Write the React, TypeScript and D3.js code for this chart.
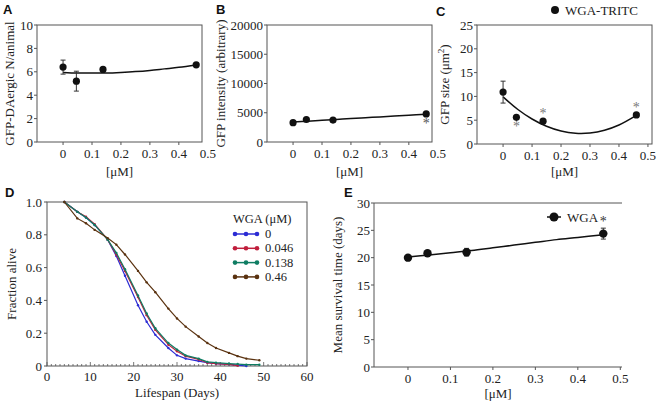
import React from "react";
import * as d3 from "d3";

// ---------- data ----------
const conc = [0, 0.046, 0.138, 0.46];
const fitX = [0, 0.05, 0.1, 0.15, 0.2, 0.25, 0.3, 0.35, 0.4, 0.46];

const neuronCount = [6.4, 5.2, 6.2, 6.6];
const neuronErr = [0.6, 0.85, 0.15, 0.1];
const neuronFit = [5.95, 5.9, 5.89, 5.9, 5.95, 6.02, 6.12, 6.25, 6.38, 6.58];

const intensity = [3300, 3850, 3750, 4800];
const intensityErr = [150, 150, 150, 150];
const intensityFit = [3420, 3560, 3700, 3850, 4000, 4140, 4290, 4430, 4570, 4750];

const gfpSize = [10.9, 5.6, 4.8, 6.1];
const gfpSizeErr = [2.3, 0.2, 0.2, 0.2];
const gfpSizeFit = [9.9, 7.3, 5.25, 3.72, 2.72, 2.24, 2.3, 2.88, 3.98, 6.0];

const survival = [20.0, 20.8, 21.0, 24.4];
const survivalErr = [0.3, 0.5, 0.7, 1.0];
const survivalFit = [20.1, 20.5, 20.9, 21.3, 21.8, 22.3, 22.8, 23.3, 23.7, 24.2];

const days = [4, 7, 9, 11, 14, 16, 18, 21, 23, 25, 28, 30, 32, 35, 37, 39, 42, 44, 46, 49];
const alive0 = [1.0, 0.94, 0.905, 0.86, 0.77, 0.67, 0.55, 0.37, 0.27, 0.19, 0.11, 0.065, 0.045, 0.03, 0.02, 0.015, 0.01, 0.005, 0.0];
const alive046 = [1.0, 0.94, 0.91, 0.865, 0.77, 0.68, 0.58, 0.42, 0.31, 0.22, 0.13, 0.09, 0.06, 0.04, 0.02, 0.015, 0.01, 0.002];
const alive138 = [1.0, 0.94, 0.905, 0.86, 0.77, 0.69, 0.59, 0.43, 0.32, 0.23, 0.14, 0.1, 0.065, 0.045, 0.025, 0.02, 0.015, 0.012, 0.008, 0.008];
const alive46 = [1.0, 0.9, 0.87, 0.83, 0.78, 0.74, 0.68, 0.58, 0.51, 0.45, 0.35, 0.29, 0.24, 0.18, 0.14, 0.11, 0.08, 0.06, 0.045, 0.035];
const lifespanSeries = [
  { label: "0", values: alive0, color: "#2c2cd4" },
  { label: "0.046", values: alive046, color: "#c01e3c" },
  { label: "0.138", values: alive138, color: "#0f7d63" },
  { label: "0.46", values: alive46, color: "#5a3210" },
];

const concTicks = [0, 0.1, 0.2, 0.3, 0.4, 0.5];
const neuronTicks = [0, 2, 4, 6, 8, 10];
const intensityTicks = [0, 5000, 10000, 15000, 20000];
const sizeTicks = [0, 5, 10, 15, 20, 25];
const survivalTicks = [0, 5, 10, 15, 20, 25, 30];
const dayTicks = [0, 10, 20, 30, 40, 50, 60];
const fracTicks = [0, 0.2, 0.4, 0.6, 0.8, 1.0];

const SERIF = "Liberation Serif, DejaVu Serif, Tinos, Times New Roman, Times, serif";
const SANS = "Liberation Sans, Arimo, Arial, DejaVu Sans, sans-serif";
const TXT = "#222";
const AX = "#555";

type Star = "above" | "below" | null;

function ScatterPanel(props: {
  left: number; right: number; top: number; bottom: number;
  xDomain: [number, number]; yDomain: [number, number];
  yTicks: number[]; values: number[]; errs: number[]; fit: number[];
  stars: Star[]; ylabel: React.ReactNode; ylabelX: number;
  letter: string; letterX: number; letterY: number; xlabelY: number;
  yFmt?: (v: number) => string; fullBox?: boolean; r?: number; starColor?: string;
}) {
  const p = props;
  const x = d3.scaleLinear().domain(p.xDomain).range([p.left, p.right]);
  const y = d3.scaleLinear().domain(p.yDomain).range([p.bottom, p.top]);
  const line = d3.line<number>().x((_, i) => x(fitX[i])).y((v) => y(v)).curve(d3.curveCatmullRom);
  const r = p.r ?? 3.6;
  const fmt = p.yFmt ?? ((v: number) => String(v));
  return (
    <g>
      <text x={p.letterX} y={p.letterY} fontFamily={SANS} fontWeight="bold" fontSize={13} fill="#111">{p.letter}</text>
      {p.fullBox !== false ? (
        <rect x={p.left} y={p.top} width={p.right - p.left} height={p.bottom - p.top} fill="none" stroke={AX} strokeWidth={1} />
      ) : (
        <path d={`M${p.right},${p.top}H${p.left}V${p.bottom}H${p.right}`} fill="none" stroke={AX} strokeWidth={1} />
      )}
      {p.yTicks.map((t) => (
        <g key={"y" + t}>
          <line x1={p.left - 3} x2={p.left} y1={y(t)} y2={y(t)} stroke={AX} />
          <text x={p.left - 4} y={y(t) + 4.5} textAnchor="end" fontFamily={SERIF} fontSize={13} fill={TXT}>{fmt(t)}</text>
        </g>
      ))}
      {concTicks.map((t) => (
        <g key={"x" + t}>
          {x(t) <= p.right + 0.5 && <line x1={x(t)} x2={x(t)} y1={p.bottom} y2={p.bottom + 3} stroke={AX} />}
          <text x={x(t)} y={p.bottom + 16} textAnchor="middle" fontFamily={SERIF} fontSize={13} fill={TXT}>{t === 0 ? "0" : t.toFixed(1)}</text>
        </g>
      ))}
      <text x={(p.left + p.right) / 2} y={p.xlabelY} textAnchor="middle" fontFamily={SERIF} fontSize={13} fill={TXT}>[μM]</text>
      <text transform={`translate(${p.ylabelX},${(p.top + p.bottom) / 2}) rotate(-90)`} textAnchor="middle" fontFamily={SERIF} fontSize={13} fill={TXT}>{p.ylabel}</text>
      <path d={line(p.fit) ?? ""} fill="none" stroke="#111" strokeWidth={1.5} />
      {p.values.map((v, i) => (
        <g key={"e" + i}>
          <line x1={x(conc[i])} x2={x(conc[i])} y1={y(v - p.errs[i])} y2={y(v + p.errs[i])} stroke="#333" />
          <line x1={x(conc[i]) - 2.5} x2={x(conc[i]) + 2.5} y1={y(v + p.errs[i])} y2={y(v + p.errs[i])} stroke="#333" />
          <line x1={x(conc[i]) - 2.5} x2={x(conc[i]) + 2.5} y1={y(v - p.errs[i])} y2={y(v - p.errs[i])} stroke="#333" />
          <circle cx={x(conc[i])} cy={y(v)} r={r} fill="#111" />
          {p.stars[i] && (
            <text x={x(conc[i])} textAnchor="middle"
              y={p.stars[i] === "above" ? y(v + p.errs[i]) - 2 : y(v - p.errs[i]) + 13}
              fontFamily={SERIF} fontSize={14} fill={p.starColor ?? "#555"}>*</text>
          )}
        </g>
      ))}
    </g>
  );
}

function LifespanPanel() {
  const left = 47, right = 307, top = 202, bottom = 366;
  const x = d3.scaleLinear().domain([0, 60]).range([left, right]);
  const y = d3.scaleLinear().domain([0, 1]).range([bottom, top]);
  const line = d3.line<number>().x((_, i) => x(days[i])).y((v) => y(v));
  const minor = d3.range(0, 61, 1);
  return (
    <g>
      <text x={5} y={197} fontFamily={SANS} fontWeight="bold" fontSize={13} fill="#111">D</text>
      <rect x={left} y={top} width={right - left} height={bottom - top} fill="none" stroke={AX} />
      {minor.map((t) => (
        <line key={"m" + t} x1={x(t)} x2={x(t)} y1={bottom} y2={bottom - (t % 10 === 0 ? 4 : 2)} stroke={AX} strokeWidth={0.8} />
      ))}
      {dayTicks.map((t) => (
        <text key={"dx" + t} x={x(t)} y={bottom + 15} textAnchor="middle" fontFamily={SERIF} fontSize={13} fill={TXT}>{t}</text>
      ))}
      {fracTicks.map((t) => (
        <g key={"dy" + t}>
          <line x1={left - 3} x2={left} y1={y(t)} y2={y(t)} stroke={AX} />
          <text x={left - 5} y={y(t) + 4.5} textAnchor="end" fontFamily={SERIF} fontSize={13} fill={TXT}>{t === 0 ? "0" : t.toFixed(1)}</text>
        </g>
      ))}
      <text x={(left + right) / 2} y={397} textAnchor="middle" fontFamily={SERIF} fontSize={13} fill={TXT}>Lifespan (Days)</text>
      <text transform={`translate(16,${(top + bottom) / 2}) rotate(-90)`} textAnchor="middle" fontFamily={SERIF} fontSize={13} fill={TXT}>Fraction alive</text>
      {lifespanSeries.map((s) => (
        <g key={s.label}>
          <path d={line(s.values) ?? ""} fill="none" stroke={s.color} strokeWidth={1.2} />
          {s.values.map((v, i) => (
            <circle key={i} cx={x(days[i])} cy={y(v)} r={1.2} fill={s.color} />
          ))}
        </g>
      ))}
      <text x={233} y={223} fontFamily={SERIF} fontSize={12.5} fill={TXT}>WGA (μM)</text>
      {lifespanSeries.map((s, i) => {
        const ly = 234 + i * 14.3;
        return (
          <g key={"lg" + s.label}>
            <line x1={235} x2={257} y1={ly} y2={ly} stroke={s.color} strokeWidth={1.5} />
            {[235, 246, 257].map((cx) => <circle key={cx} cx={cx} cy={ly} r={2.3} fill={s.color} />)}
            <text x={265} y={ly + 4} fontFamily={SERIF} fontSize={12.5} fill={TXT}>{s.label}</text>
          </g>
        );
      })}
    </g>
  );
}

export default function App() {
  return (
    <svg width={656} height={406} style={{ position: "absolute", left: 0, top: 0, background: "#fff" }}>
      <rect width={656} height={406} fill="#fff" />
      <ScatterPanel left={37} right={202} top={25} bottom={142} xDomain={[-0.09, 0.48]} yDomain={[0, 10]}
        yTicks={neuronTicks} values={neuronCount} errs={neuronErr} fit={neuronFit}
        stars={[null, null, null, null]} ylabel="GFP-DAergic N/animal" ylabelX={14}
        letter="A" letterX={3} letterY={14} xlabelY={176} />
      <ScatterPanel left={267} right={432} top={25} bottom={142} xDomain={[-0.09, 0.48]} yDomain={[0, 20000]}
        yTicks={intensityTicks} values={intensity} errs={intensityErr} fit={intensityFit}
        stars={[null, null, null, "below"]} ylabel="GFP intensity (arbitrary)" ylabelX={225}
        letter="B" letterX={216} letterY={14} xlabelY={176} />
      <ScatterPanel left={477} right={652} top={25} bottom={144} xDomain={[-0.09, 0.514]} yDomain={[0, 25]}
        yTicks={sizeTicks} values={gfpSize} errs={gfpSizeErr} fit={gfpSizeFit}
        stars={[null, "below", "above", "above"]} starColor="#777"
        ylabel={<>GFP size (μm<tspan baselineShift="super" fontSize={9}>2</tspan>)</>} ylabelX={449}
        letter="C" letterX={436} letterY={16} xlabelY={176} />
      <circle cx={555} cy={10} r={4} fill="#111" />
      <text x={565} y={14.5} fontFamily={SERIF} fontSize={13} fill={TXT}>WGA-TRITC</text>
      <LifespanPanel />
      <ScatterPanel left={374} right={622} top={203} bottom={367} xDomain={[-0.08, 0.504]} yDomain={[0, 30]}
        yTicks={survivalTicks} values={survival} errs={survivalErr} fit={survivalFit}
        stars={[null, null, null, "above"]} starColor="#333" fullBox={false} r={4.2}
        ylabel="Mean survival time (days)" ylabelX={342}
        letter="E" letterX={344} letterY={197} xlabelY={398} />
      <line x1={547} x2={561} y1={217} y2={217} stroke="#111" strokeWidth={1.5} />
      <circle cx={554} cy={217} r={4.5} fill="#111" />
      <text x={567} y={221.5} fontFamily={SERIF} fontSize={13} fill={TXT}>WGA</text>
    </svg>
  );
}
